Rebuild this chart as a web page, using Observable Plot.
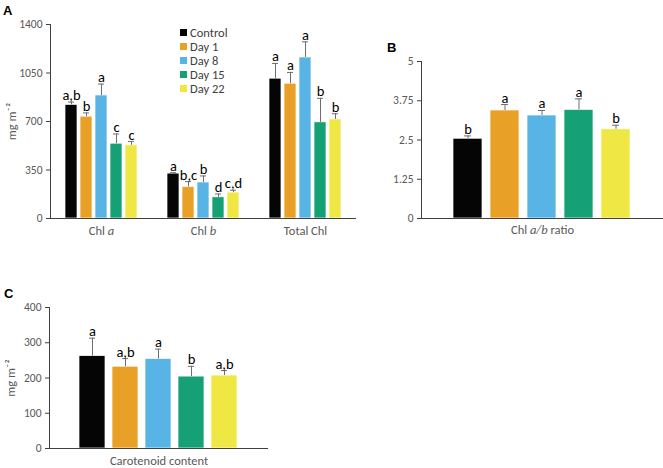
<!DOCTYPE html>
<html><head><meta charset="utf-8">
<script src="https://cdn.jsdelivr.net/npm/d3@7"></script>
<script src="https://cdn.jsdelivr.net/npm/@observablehq/plot@0.6"></script>
<style>
body{margin:0;background:#fff;}
#wrap{position:relative;width:663px;height:468px;overflow:hidden;background:#fff;font-family:Carlito,Lato,sans-serif;}
.panel{position:absolute;}
.plabel{position:absolute;font-family:"Liberation Sans",Arial,sans-serif;font-weight:bold;font-size:13px;color:#000;line-height:1;}
.legend{position:absolute;font-size:12.5px;color:#404040;}
.legend .row{display:flex;align-items:center;height:14px;}
.legend .sw{width:7px;height:7px;margin-right:3px;}
</style></head><body>
<div id="wrap"></div>
<script>
// ---- data ----
const series = ["Control", "Day 1", "Day 8", "Day 15", "Day 22"];
const colors = ["#050505", "#E8A126", "#59B4E6", "#16A075", "#EFE744"];

const groupsA = ["Chl a", "Chl b", "Total Chl"];
const chlA = [820, 735, 888, 540, 528];
const chlAErr = [20, 27, 82, 70, 27];
const chlALetters = ["a,b", "b", "a", "c", "c"];
const chlB = [324, 228, 260, 153, 187];
const chlBErr = [7, 38, 47, 24, 17];
const chlBLetters = ["a", "b,c", "b", "d", "c,d"];
const totalChl = [1009, 973, 1162, 694, 715];
const totalChlErr = [110, 81, 113, 173, 41];
const totalChlLetters = ["a", "a", "a", "b", "b"];
const ticksA = [0, 350, 700, 1050, 1400];

const groupsB = ["Chl a/b ratio"];
const ratio = [2.54, 3.44, 3.28, 3.46, 2.84];
const ratioErr = [0.09, 0.19, 0.16, 0.35, 0.13];
const ratioLetters = ["b", "a", "a", "a", "b"];
const ticksB = [0, 1.25, 2.5, 3.75, 5];

const groupsC = ["Carotenoid content"];
const carot = [262, 232, 254, 204, 207];
const carotErr = [51, 23, 28, 29, 14];
const carotLetters = ["a", "a,b", "a", "b", "a,b"];
const ticksC = [0, 100, 200, 300, 400];

// italic parts of category labels
const richLabels = {
  "Chl a": [["Chl ", false], ["a", true]],
  "Chl b": [["Chl ", false], ["b", true]],
  "Chl a/b ratio": [["Chl ", false], ["a/b", true], [" ratio", false]]
};

function rows(group, vals, errs, letters) {
  return series.map((s, i) => ({group, series: s, value: vals[i], top: vals[i] + errs[i], letter: letters[i]}));
}
const dataA = [
  ...rows("Chl a", chlA, chlAErr, chlALetters),
  ...rows("Chl b", chlB, chlBErr, chlBLetters),
  ...rows("Total Chl", totalChl, totalChlErr, totalChlLetters)
];
const dataB = rows("Chl a/b ratio", ratio, ratioErr, ratioLetters);
const dataC = rows("Carotenoid content", carot, carotErr, carotLetters);

const FONT = "Carlito, Lato, sans-serif";
const AXIS = "#404040";
const TXT = "#595959";
const ERR = "#6e6e6e";

function panel(o) {
  const marks = [
    Plot.barY(o.data, {fx: "group", x: "series", y: "value", fill: "series", stroke: "#fff", strokeWidth: 0.7}),
    Plot.ruleX(o.data, {fx: "group", x: "series", y1: "value", y2: "top", stroke: ERR, strokeWidth: 1}),
    Plot.tickY(o.data, {fx: "group", x: "series", y: "top", stroke: ERR, strokeWidth: 1, insetLeft: o.cap, insetRight: o.cap}),
    Plot.text(o.data, {fx: "group", x: "series", y: "top", text: "letter", dy: -2, lineAnchor: "bottom", fill: "#000", fontSize: 14.5}),
    Plot.ruleY([0], {stroke: AXIS, strokeWidth: 1}),
    Plot.frame({anchor: "left", facetAnchor: "left", stroke: AXIS, strokeWidth: 1}),
    Plot.axisY({ticks: o.ticks, tickFormat: o.fmt, tickSize: 4, tickPadding: 4, stroke: AXIS, fill: TXT, fontSize: 11.5, label: null})
  ];
  if (o.ylabel) marks.push(Plot.axisY({ticks: [], label: o.ylabel, labelAnchor: "center", labelArrow: "none",
    labelOffset: 43, fill: TXT, fontSize: 12.5}));
  const svg = Plot.plot({
    width: o.width, height: o.height,
    marginLeft: o.ml, marginRight: o.mr, marginTop: o.mt, marginBottom: o.mb,
    style: {fontFamily: FONT, fontSize: "12.5px", color: TXT, background: "transparent", overflow: "visible"},
    fx: {domain: o.groups, padding: 0, label: null, tickSize: 0, tickPadding: o.xpad, axis: "bottom"},
    x: {domain: series, paddingInner: o.pi, paddingOuter: o.po, axis: null},
    y: {domain: o.ydomain, axis: null},
    color: {domain: series, range: colors},
    marks
  });
  svg.querySelectorAll('[aria-label="fx-axis tick label"] text').forEach(t => {
    const parts = richLabels[t.textContent];
    if (!parts) return;
    t.textContent = "";
    parts.forEach(([s, it]) => {
      const ts = document.createElementNS("http://www.w3.org/2000/svg", "tspan");
      ts.textContent = s;
      if (it) ts.setAttribute("font-style", "italic");
      t.appendChild(ts);
    });
  });
  const div = document.createElement("div");
  div.className = "panel";
  div.style.left = o.left + "px";
  div.style.top = o.top + "px";
  div.appendChild(svg);
  return div;
}

const wrap = document.getElementById("wrap");
const yl = "mg m\u207B\u00B2";
wrap.appendChild(panel({data: dataA, groups: groupsA, ydomain: [0, 1400], ticks: ticksA, fmt: d => String(d), ylabel: yl,
  width: 360, height: 245, ml: 49, mr: 4, mt: 24, mb: 27, pi: 0.217, po: 0.89, cap: 3, xpad: 8, left: 0, top: 0}));
wrap.appendChild(panel({data: dataB, groups: groupsB, ydomain: [0, 5], ticks: ticksB, fmt: d => String(d), ylabel: null,
  width: 323, height: 245, ml: 81, mr: 0, mt: 61, mb: 27, pi: 0.207, po: 0.852, cap: 11, xpad: 7, left: 340, top: 0}));
wrap.appendChild(panel({data: dataC, groups: groupsC, ydomain: [0, 400], ticks: ticksC, fmt: d => String(d), ylabel: yl,
  width: 280, height: 218, ml: 49, mr: 12, mt: 57, mb: 20, pi: 0.204, po: 0.884, cap: 10, xpad: 8, left: 0, top: 250}));

// legend
const leg = document.createElement("div");
leg.className = "legend";
leg.style.left = "180px";
leg.style.top = "25px";
series.forEach((s, i) => {
  const r = document.createElement("div");
  r.className = "row";
  const sw = document.createElement("div");
  sw.className = "sw";
  sw.style.background = colors[i];
  const tx = document.createElement("span");
  tx.textContent = s;
  r.appendChild(sw); r.appendChild(tx);
  leg.appendChild(r);
});
wrap.appendChild(leg);

// panel letters
[["A", 3, 4], ["B", 387, 41], ["C", 4, 287]].forEach(([t, x, y]) => {
  const d = document.createElement("div");
  d.className = "plabel";
  d.textContent = t;
  d.style.left = x + "px";
  d.style.top = y + "px";
  wrap.appendChild(d);
});
</script>
</body></html>
